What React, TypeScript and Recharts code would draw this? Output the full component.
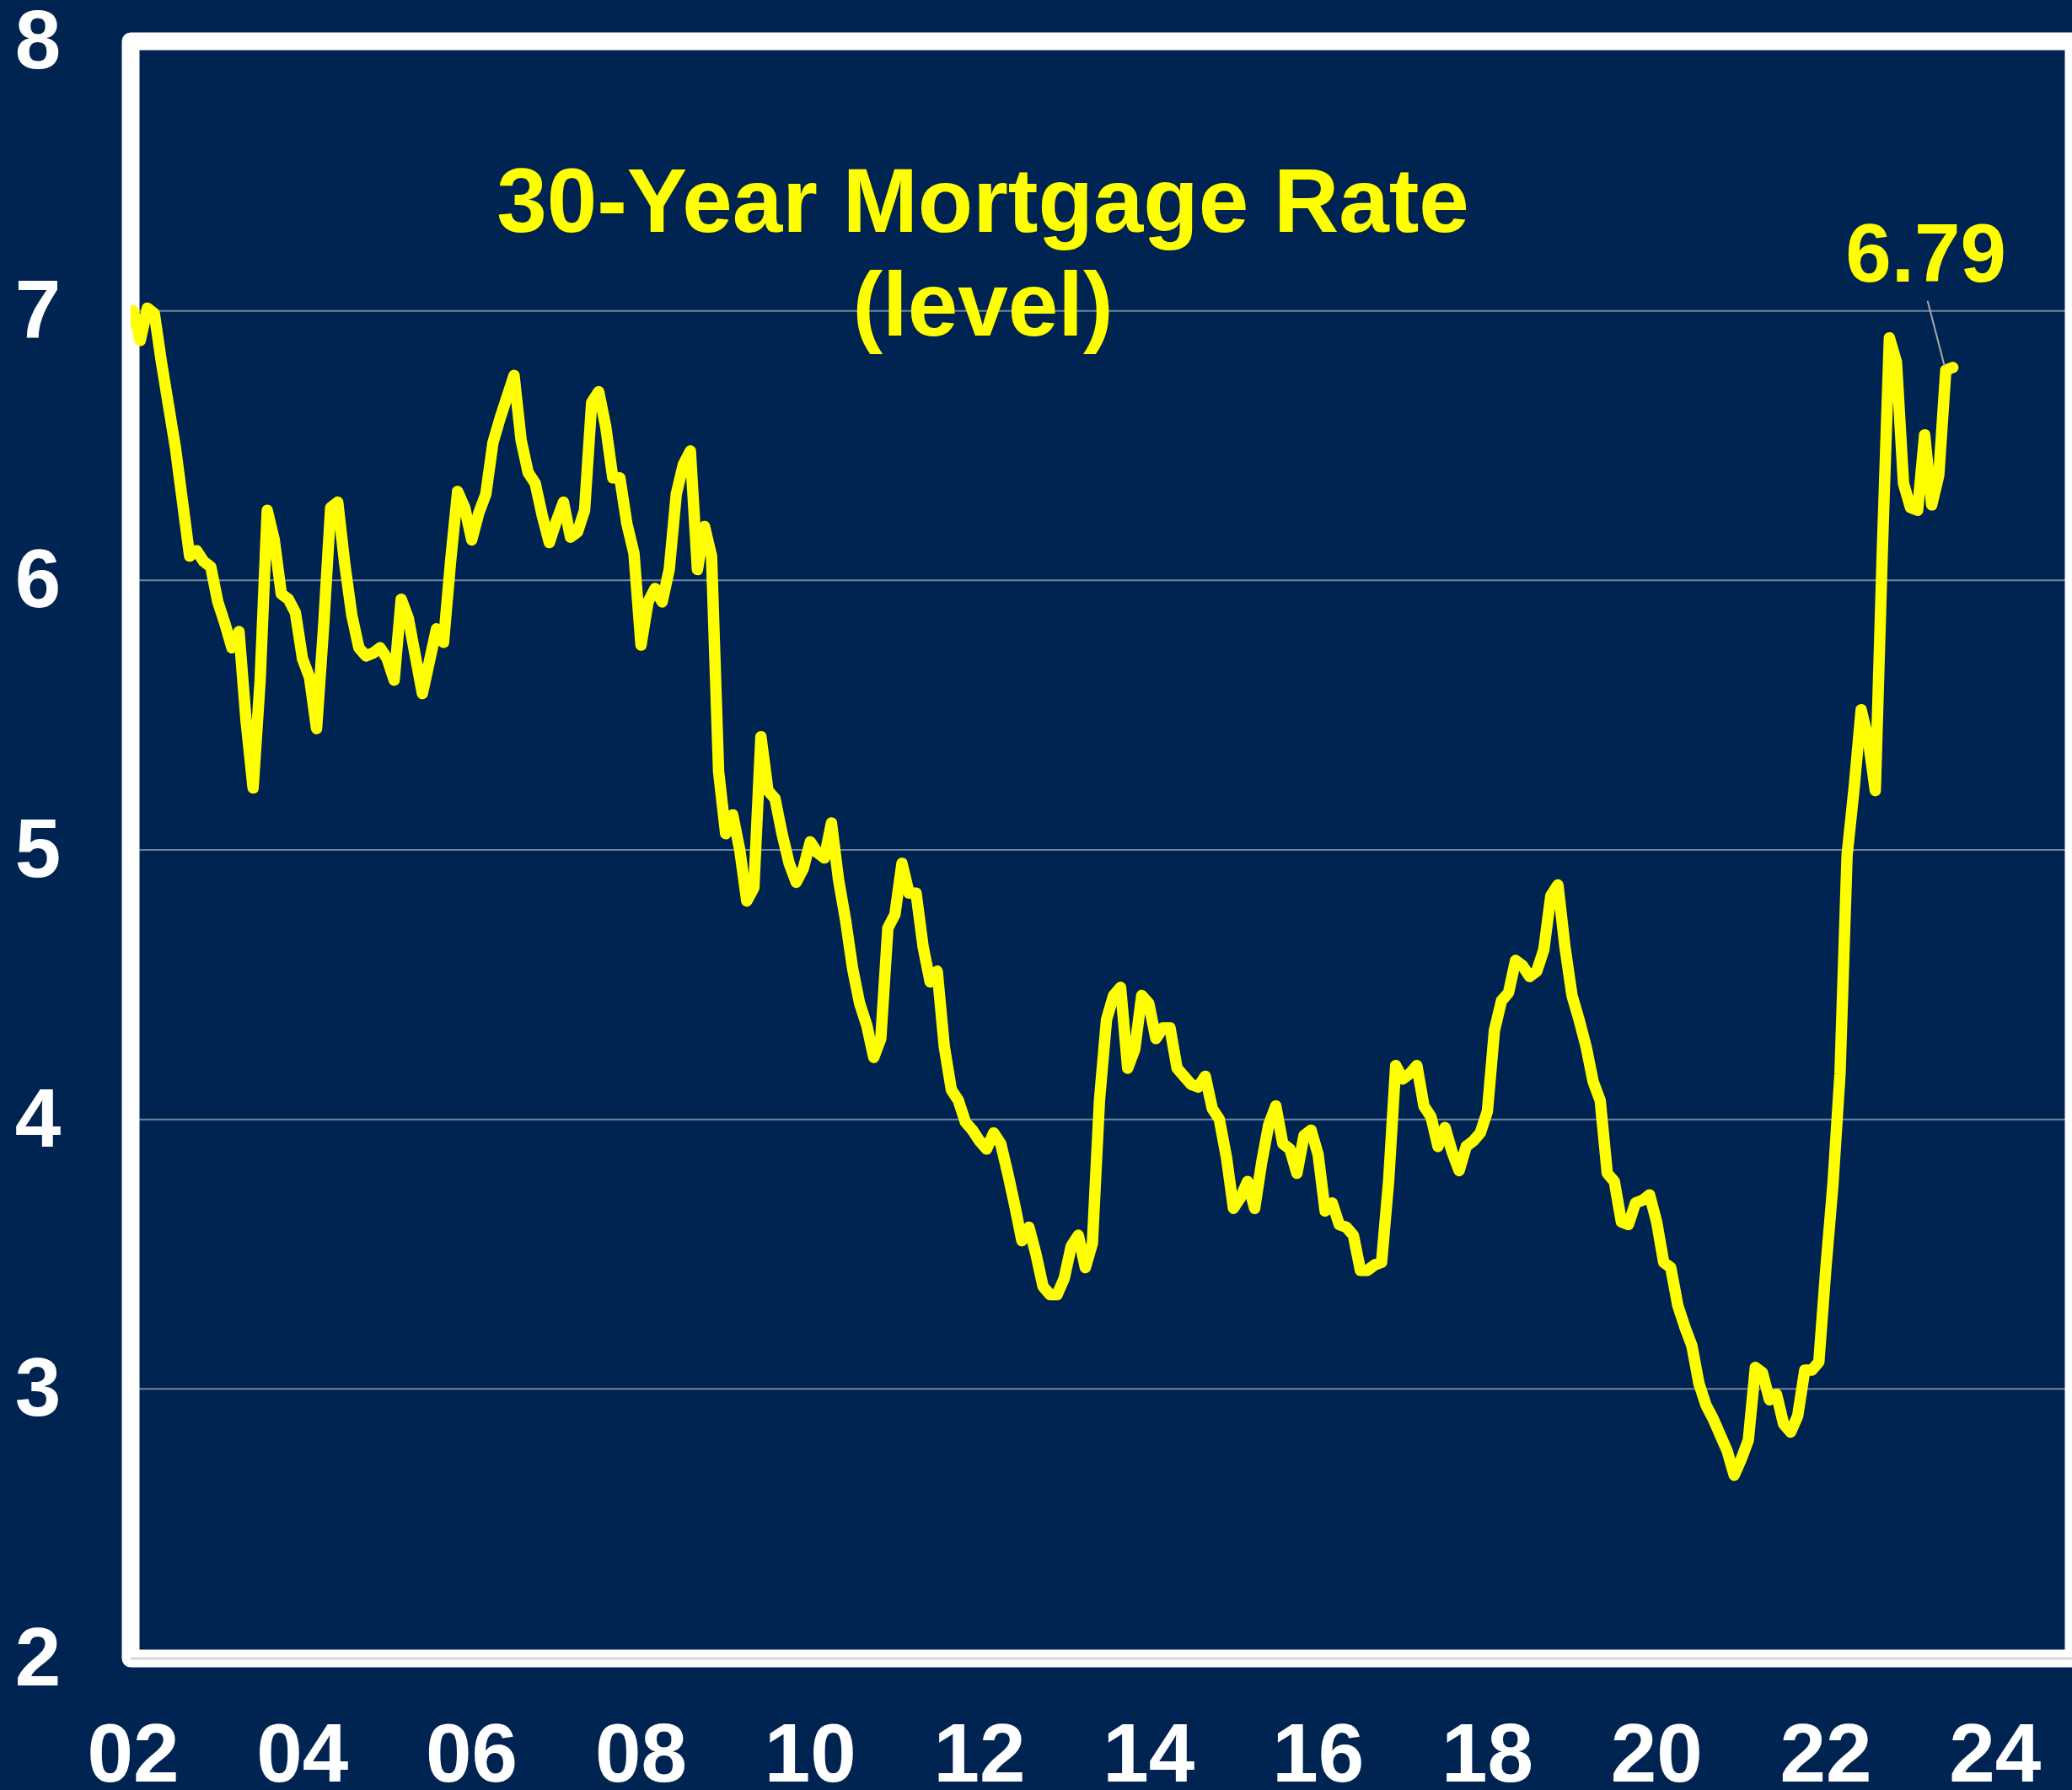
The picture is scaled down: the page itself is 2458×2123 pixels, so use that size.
import React from 'react';
import {
  LineChart,
  Line,
  XAxis,
  YAxis,
  CartesianGrid,
  ReferenceArea,
} from 'recharts';

// 30-year mortgage rate, monthly average (%), Jan 2002 onward
const rates2002 = [7.0, 6.89, 7.01, 6.99, 6.81, 6.65, 6.49, 6.29, 6.09, 6.11, 6.07, 6.05];
const rates2003 = [5.92, 5.84, 5.75, 5.81, 5.48, 5.23, 5.63, 6.26, 6.15, 5.95, 5.93, 5.88];
const rates2004 = [5.71, 5.64, 5.45, 5.83, 6.27, 6.29, 6.06, 5.87, 5.75, 5.72, 5.73, 5.75];
const rates2005 = [5.71, 5.63, 5.93, 5.86, 5.72, 5.58, 5.7, 5.82, 5.77, 6.07, 6.33, 6.27];
const rates2006 = [6.15, 6.25, 6.32, 6.51, 6.6, 6.68, 6.76, 6.52, 6.4, 6.36, 6.24, 6.14];
const rates2007 = [6.22, 6.29, 6.16, 6.18, 6.26, 6.66, 6.7, 6.57, 6.38, 6.38, 6.21, 6.1];
const rates2008 = [5.76, 5.92, 5.97, 5.92, 6.04, 6.32, 6.43, 6.48, 6.04, 6.2, 6.09, 5.29];
const rates2009 = [5.06, 5.13, 5.0, 4.81, 4.86, 5.42, 5.22, 5.19, 5.06, 4.95, 4.88, 4.93];
const rates2010 = [5.03, 4.99, 4.97, 5.1, 4.89, 4.74, 4.56, 4.43, 4.35, 4.23, 4.3, 4.71];
const rates2011 = [4.76, 4.95, 4.84, 4.84, 4.64, 4.51, 4.55, 4.27, 4.11, 4.07, 3.99, 3.96];
const rates2012 = [3.92, 3.89, 3.95, 3.91, 3.8, 3.68, 3.55, 3.6, 3.5, 3.38, 3.35, 3.35];
const rates2013 = [3.41, 3.53, 3.57, 3.45, 3.54, 4.07, 4.37, 4.46, 4.49, 4.19, 4.26, 4.46];
const rates2014 = [4.43, 4.3, 4.34, 4.34, 4.19, 4.16, 4.13, 4.12, 4.16, 4.04, 4.0, 3.86];
const rates2015 = [3.67, 3.71, 3.77, 3.67, 3.84, 3.98, 4.05, 3.91, 3.89, 3.8, 3.94, 3.96];
const rates2016 = [3.87, 3.66, 3.69, 3.61, 3.6, 3.57, 3.44, 3.44, 3.46, 3.47, 3.77, 4.2];
const rates2017 = [4.15, 4.17, 4.2, 4.05, 4.01, 3.9, 3.97, 3.88, 3.81, 3.9, 3.92, 3.95];
const rates2018 = [4.03, 4.33, 4.44, 4.47, 4.59, 4.57, 4.53, 4.55, 4.63, 4.83, 4.87, 4.64];
const rates2019 = [4.46, 4.37, 4.27, 4.14, 4.07, 3.8, 3.77, 3.62, 3.61, 3.69, 3.7, 3.72];
const rates2020 = [3.62, 3.47, 3.45, 3.31, 3.23, 3.16, 3.02, 2.94, 2.89, 2.83, 2.77, 2.68];
const rates2021 = [2.74, 2.81, 3.08, 3.06, 2.96, 2.98, 2.87, 2.84, 2.9, 3.07, 3.07, 3.1];
const rates2022 = [3.45, 3.76, 4.17, 4.98, 5.23, 5.52, 5.41, 5.22, 6.11, 6.9, 6.81, 6.36];
const rates2023 = [6.27, 6.26, 6.54, 6.28, 6.39, 6.78, 6.79];

const monthlyRates = [
  ...rates2002, ...rates2003, ...rates2004, ...rates2005, ...rates2006, ...rates2007,
  ...rates2008, ...rates2009, ...rates2010, ...rates2011, ...rates2012, ...rates2013,
  ...rates2014, ...rates2015, ...rates2016, ...rates2017, ...rates2018, ...rates2019,
  ...rates2020, ...rates2021, ...rates2022, ...rates2023,
];

const xTickLabels = ['02', '04', '06', '08', '10', '12', '14', '16', '18', '20', '22', '24'];
const yTicks = [2, 3, 4, 5, 6, 7, 8];

const data = monthlyRates.map((rate, i) => ({ month: i, rate }));
const xTicks = xTickLabels.map((_, i) => i * 24);
const lastIndex = monthlyRates.length - 1;
const monthDomain = [-0.36, 275.13];

const NAVY = '#002451';
const YELLOW = '#ffff00';
const FONT = '"Liberation Sans", Arial, sans-serif';

const XTick = ({ x, y, payload }: any) => (
  <text x={x} y={y + 146} textAnchor="middle" fill="#fff" fontSize={98} fontWeight="bold" fontFamily={FONT}>
    {xTickLabels[Math.round(payload.value / 24)]}
  </text>
);

const YTick = ({ x, y, payload }: any) => (
  <text x={x - 110} y={y + 32} textAnchor="middle" fill="#fff" fontSize={98} fontWeight="bold" fontFamily={FONT}>
    {payload.value}
  </text>
);

const LastValueLabel = (props: any) => {
  const { x, y, value } = props;
  const idx = props.index ?? props.payload?.month;
  if (idx !== lastIndex || x == null || y == null) return null;
  return (
    <g>
      <line x1={x - 30} y1={y - 79} x2={x - 10} y2={y - 2} stroke="#a8a8a8" strokeWidth={2} />
      <text x={x - 32} y={y - 102} textAnchor="middle" fill={YELLOW} fontSize={98} fontWeight="bold" fontFamily={FONT}>
        {Number(value).toFixed(2)}
      </text>
    </g>
  );
};

const PlotFrame = (p: any) => (
  <rect
    x={p.x}
    y={p.y}
    width={p.width}
    height={p.height}
    fill="none"
    stroke="#fff"
    strokeWidth={21}
    strokeLinejoin="round"
  />
);

export default function App() {
  return (
    <div
      style={{
        position: 'absolute',
        left: 0,
        top: 0,
        width: 2458,
        height: 2123,
        background: NAVY,
        overflow: 'hidden',
      }}
    >
      <LineChart
        width={2460}
        height={2123}
        data={data}
        margin={{ top: 49, right: 0, bottom: 0, left: 0 }}
      >
        <CartesianGrid vertical={false} stroke="#71839f" strokeWidth={2} />
        <XAxis
          type="number"
          dataKey="month"
          domain={monthDomain}
          ticks={xTicks}
          allowDataOverflow
          height={156}
          tickSize={0}
          tickMargin={0}
          tickLine={false}
          axisLine={{ stroke: '#d6d6d6', strokeWidth: 3 }}
          tick={<XTick />}
          interval={0}
        />
        <YAxis
          type="number"
          domain={[2, 8]}
          ticks={yTicks}
          width={155}
          tickSize={0}
          tickMargin={0}
          tickLine={false}
          axisLine={false}
          tick={<YTick />}
          interval={0}
        />
        <ReferenceArea
          x1={monthDomain[0]}
          x2={monthDomain[1]}
          y1={2}
          y2={8}
          shape={<PlotFrame />}
        />
        <Line
          type="linear"
          dataKey="rate"
          stroke={YELLOW}
          strokeWidth={13.5}
          strokeLinejoin="round"
          strokeLinecap="round"
          dot={false}
          activeDot={false}
          isAnimationActive={false}
          label={LastValueLabel}
        />
      </LineChart>
      <svg
        width={2458}
        height={2123}
        style={{ position: 'absolute', left: 0, top: 0, pointerEvents: 'none' }}
      >
        <text x={1166} y={275} textAnchor="middle" fill={YELLOW} fontSize={107} fontWeight="bold" fontFamily={FONT}>
          30-Year Mortgage Rate
        </text>
        <text x={1166} y={398} textAnchor="middle" fill={YELLOW} fontSize={107} fontWeight="bold" fontFamily={FONT}>
          (level)
        </text>
      </svg>
    </div>
  );
}
